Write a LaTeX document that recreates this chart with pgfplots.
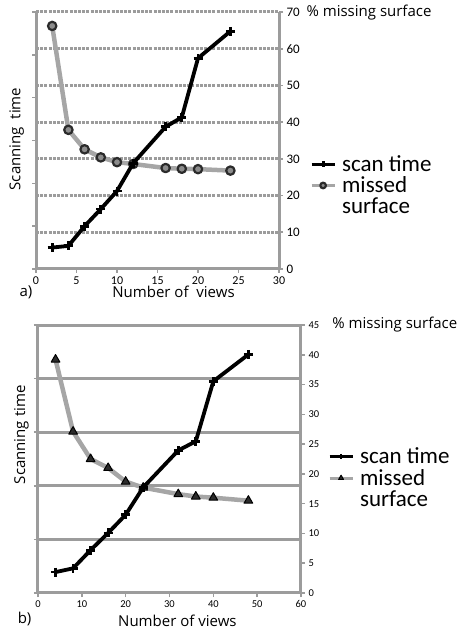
\documentclass[border=0pt]{standalone}
\usepackage{pgfplots}
\pgfplotsset{compat=1.18}
\usepackage{fontspec}
\setmainfont{Open Sans}
\newfontfamily\calibri{Carlito}
\definecolor{axgray}{HTML}{9C9C9C}
\definecolor{linegray}{HTML}{A6A6A6}
\definecolor{markdark}{HTML}{2B2B2B}
\definecolor{markfill}{HTML}{8C8C8C}

\pgfplotsset{
  base/.style={scale only axis, anchor=south west, xmin=0, ymin=0, clip=false,
    tick align=outside, axis line style={axgray, line width=3pt},
    tick style={axgray, line width=1.6pt}, major tick length=4pt,
    /pgf/number format/assume math mode=true,
    ticklabel style={text=black}},
  scanstyle/.style={black, line width=3.8pt, line join=round, mark=+, mark size=4.5pt,
    mark options={line width=2.8pt, solid}},
  missstyleA/.style={linegray, line width=4.5pt, line join=round, mark=*, mark size=4.2pt,
    mark options={draw=markdark, fill=markfill, line width=2.2pt}},
  missstyleB/.style={linegray, line width=4.5pt, line join=round, mark=triangle*, mark size=5pt,
    mark options={draw=black, fill=markdark, line width=1pt}},
  mylegend/.style={legend cell align=left,
    legend style={draw=none, fill=none, inner sep=0pt, outer sep=0pt,
      font=\calibri\fontsize{23}{26}\selectfont, column sep=4pt, row sep=0pt},
    legend image code/.code={\draw[mark repeat=2,mark phase=2,##1]
      plot coordinates {(0pt,0pt) (11.5pt,0pt) (23pt,0pt)};},
    legend image post style={mark size=2.8pt, line width=3pt}},
}

\begin{document}
\begin{tikzpicture}
\useasboundingbox (0,0) rectangle (461pt,630pt);

% ---------- chart a): right axis (% missing surface) ----------
\begin{axis}[base, mylegend, at={(36pt,361pt)}, width=243pt, height=257pt,
  xmax=30, ymax=70, axis x line=none, axis y line*=right,
  ytick={0,10,...,70}, ymajorgrids,
  major grid style={axgray, line width=3pt, dash pattern=on 3pt off 1.2pt},
  yticklabel style={font=\calibri\fontsize{13}{15}\selectfont},
  legend style={at={(axis description cs:1.128,0.45)}, anchor=north west}]
\addlegendimage{scanstyle}
\addlegendentry{scan time}
\addplot[missstyleA] coordinates {
  (2,66.2) (4,37.9) (6,32.6) (8,30.4) (10,29.1) (12,28.6)
  (16,27.5) (18,27.3) (20,27.2) (24,26.8)};
\addlegendentry{missed}
\addlegendimage{empty legend}
\addlegendentry[yshift=5pt]{surface}
\node[anchor=west, font=\fontsize{15}{18}\selectfont] at (axis description cs:1.099,0.996) {\% missing surface};
\end{axis}

% ---------- chart a): left axis (scanning time) ----------
\begin{axis}[base, at={(36pt,361pt)}, width=243pt, height=257pt,
  xmax=30, ymax=6, axis x line*=bottom, axis y line*=left,
  xtick={0,5,...,30}, ytick={0,1,...,6}, yticklabels={},
  xticklabel style={font=\calibri\fontsize{12}{14}\selectfont}]
\addplot[scanstyle] coordinates {
  (2,0.50) (4,0.54) (6,1.00) (8,1.40) (10,1.82) (12,2.47)
  (16,3.32) (18,3.54) (20,4.92) (24,5.55)};
\node[font=\fontsize{15}{18}\selectfont] at (axis description cs:0.566,-0.0895) {Number of\ \ views};
\node[font=\fontsize{15}{18}\selectfont] at (axis description cs:-0.041,-0.0895) {a)};
\node[rotate=90, font=\fontsize{15}{18}\selectfont] at (axis description cs:-0.080,0.506) {Scanning\ \ time};
\end{axis}

% ---------- chart b): right axis (% missing surface) ----------
\begin{axis}[base, mylegend, at={(38pt,37pt)}, width=263pt, height=268pt,
  xmax=60, ymax=45, axis x line=none, axis y line*=right,
  ytick={0,5,...,45},
  extra y ticks={9,18,27,36,45}, extra y tick labels={},
  extra y tick style={grid=major, major tick length=0pt},
  major grid style={axgray, line width=3pt},
  yticklabel style={font=\calibri\fontsize{10.5}{12}\selectfont},
  legend style={at={(axis description cs:1.103,0.549)}, anchor=north west}]
\addlegendimage{scanstyle}
\addlegendentry{scan time}
\addplot[missstyleB] coordinates {
  (4,39.2) (8,27.1) (12,22.5) (16,21.0) (20,18.7) (24,17.7)
  (32,16.6) (36,16.2) (40,16.0) (48,15.5)};
\addlegendentry{missed}
\addlegendimage{empty legend}
\addlegendentry[yshift=5pt]{surface}
\node[anchor=west, font=\fontsize{15}{18}\selectfont] at (axis description cs:1.106,1.0) {\% missing surface};
\end{axis}

% ---------- chart b): left axis (scanning time) ----------
\begin{axis}[base, at={(38pt,37pt)}, width=263pt, height=268pt,
  xmax=60, ymax=5, axis x line*=bottom, axis y line*=left,
  xtick={0,10,...,60}, ytick={0,1,...,5}, yticklabels={},
  xticklabel style={font=\calibri\fontsize{10.5}{12}\selectfont}]
\addplot[scanstyle] coordinates {
  (4,0.39) (8,0.46) (12,0.80) (16,1.12) (20,1.46) (24,1.97)
  (32,2.66) (36,2.83) (40,3.95) (48,4.45)};
\node[font=\fontsize{15}{18}\selectfont] at (axis description cs:0.530,-0.102) {Number of views};
\node[font=\fontsize{15}{18}\selectfont] at (axis description cs:-0.051,-0.098) {b)};
\node[rotate=90, font=\fontsize{15}{18}\selectfont] at (axis description cs:-0.063,0.590) {Scanning time};
\end{axis}
\end{tikzpicture}
\end{document}
